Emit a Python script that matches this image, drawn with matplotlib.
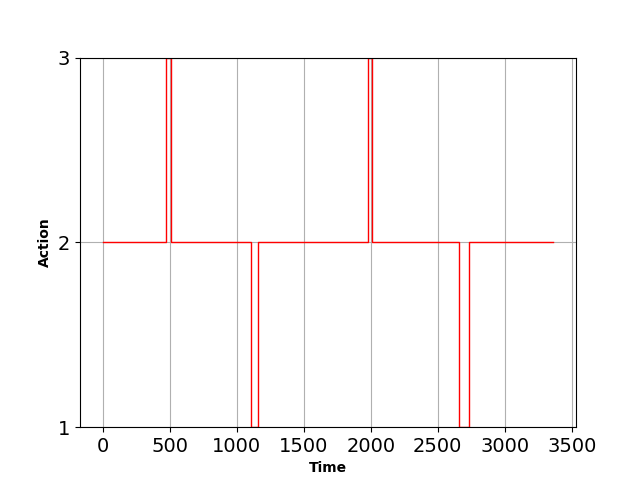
import matplotlib
matplotlib.use("Agg")
import matplotlib.pyplot as plt

# change points of the action signal (time, action from that time on)
times = [0, 472, 507, 1104, 1157, 1980, 2010, 2661, 2731, 3363]
actions = [2, 3, 2, 1, 2, 3, 2, 1, 2, 2]

fig, ax = plt.subplots(figsize=(6.4, 4.8), dpi=100)
ax.step(times, actions, where="post", color="red", linewidth=1)
ax.set_ylim(1, 3)
ax.set_yticks([1, 2, 3])
ax.tick_params(labelsize=14)
ax.set_xlabel("Time", fontweight="bold")
ax.set_ylabel("Action", fontweight="bold")
ax.grid(True)
fig.savefig("out.png")
